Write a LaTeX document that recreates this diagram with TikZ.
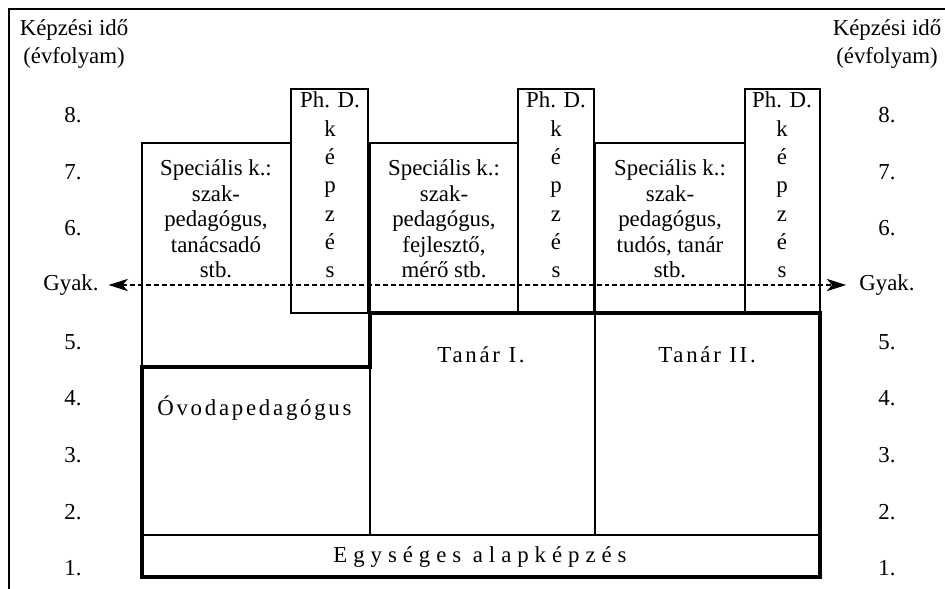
\documentclass[tikz,border=0pt]{standalone}
\usepackage{fontspec}
\setmainfont{Liberation Serif}
\usetikzlibrary{arrows.meta}

\begin{document}
\begin{tikzpicture}[x=0.02cm,y=-0.02cm,
	every node/.style={font=\fontsize{13}{14.5}\selectfont, inner sep=0pt},
	fej/.style={font=\fontsize{13}{16}\selectfont, align=center},
	phdszoveg/.style={font=\fontsize{13}{16.1}\selectfont, align=center},
	ritkitott/.style={font=\fontsize{13}{14.5}\selectfont\addfontfeature{LetterSpace=12}},
	vastag/.style={line width=2.3pt},
	kozep/.style={line width=1.2pt},
	vekony/.style={line width=0.6pt},
	belso/.style={line width=0.9pt}]

	\useasboundingbox (0,0) rectangle (945,588);
	\draw[line width=1.1pt] (9,9) rectangle (947,590);

	% fejlec es evfolyamok
	\node[fej] (fejbal) at (74,44) {Képzési idő\\(évfolyam)};
	\node[fej] (fejjobb) at (887,44) {Képzési idő\\(évfolyam)};
	\foreach \n/\y in {8/115,7/172,6/228,5/342,4/398,3/455,2/512,1/568} {
		\node (bal\n) at (73,\y) {\n.};
		\node (jobb\n) at (887,\y) {\n.};
	}

	% specialis kepzesek
	\draw[kozep] (142,367) -- (142,143) -- (291,143) -- (291,313) -- (370,313) -- (370,367);
	\draw[kozep] (370,143) rectangle (518,313);
	\draw[kozep] (595,143) rectangle (745,313);
	\draw[vekony] (291,89) rectangle (368,313);
	\draw[vekony] (518,89) rectangle (594,313);
	\draw[vekony] (745,89) rectangle (820,313);

	\node[align=center] (spec1) at (216,219) {Speciális k.:\\szak-\\pedagógus,\\tanácsadó\\stb.};
	\node[align=center] (spec2) at (444,219) {Speciális k.:\\szak-\\pedagógus,\\fejlesztő,\\mérő stb.};
	\node[align=center] (spec3) at (670,219) {Speciális k.:\\szak-\\pedagógus,\\tudós, tanár\\stb.};
	\node[phdszoveg] (phd1) at (330,185) {Ph. D.\\k\\é\\p\\z\\é\\s};
	\node[phdszoveg] (phd2) at (556,185) {Ph. D.\\k\\é\\p\\z\\é\\s};
	\node[phdszoveg] (phd3) at (782,185) {Ph. D.\\k\\é\\p\\z\\é\\s};

	% gyakorlat
	\node (gyakbal) at (71,285) {Gyak.};
	\node (gyakjobb) at (887,285) {Gyak.};
	\draw[vekony, dash pattern=on 2.8pt off 1.7pt, shorten <=5.5pt, shorten >=7.4pt,
		{Stealth[length=11pt,width=7pt,inset=3pt]}-{Stealth[length=11pt,width=7pt,inset=3pt]}]
		(gyakbal.east) -- (gyakjobb.west);

	% alapkepzes es tanari szakok
	\draw[belso] (370,367) -- (370,535);
	\draw[belso] (595,313) -- (595,535);
	\draw[belso] (142,535) -- (820,535);
	\draw[vastag] (142,577) -- (142,367) -- (370,367) -- (370,313) -- (820,313) -- (820,577) -- cycle;

	\node[ritkitott, anchor=west] (ovoda) at (157,408) {Óvodapedagógus};
	\node[ritkitott] (tanar1) at (481,355) {Tanár I.};
	\node[ritkitott] (tanar2) at (707,355) {Tanár II.};
	\node[font=\fontsize{13}{14.5}\selectfont\addfontfeature{LetterSpace=26}] (alap) at (480,557) {Egységes alapképzés};
\end{tikzpicture}
\end{document}
